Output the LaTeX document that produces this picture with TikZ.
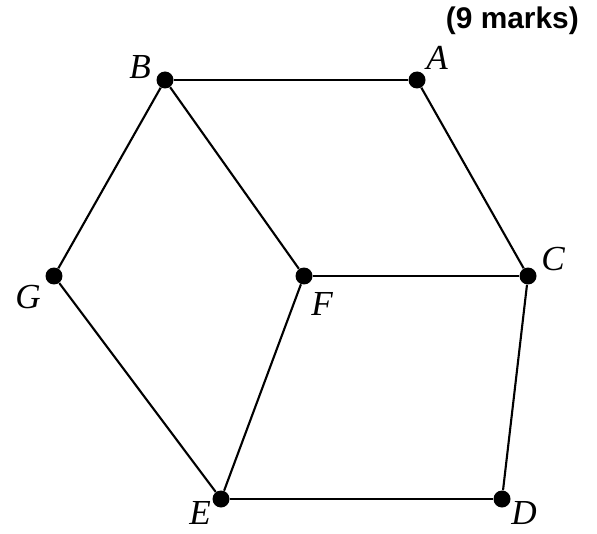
\documentclass[tikz,border=0pt]{standalone}
\usepackage{fontspec}
\setmainfont{Liberation Serif}
\setsansfont{Liberation Sans}
\usepackage{tikz}
\usetikzlibrary{positioning}

\begin{document}
\begin{tikzpicture}[x=0.02cm,y=-0.02cm,
  vtx/.style={circle,fill=black,inner sep=0pt,minimum size=0.34cm},
  lbl/.style={font=\fontsize{20}{24}\selectfont\itshape,inner sep=0pt},
  edge/.style={line width=1.2pt}]
\useasboundingbox (0,0) rectangle (597,533);
\node[font=\fontsize{17}{20}\selectfont\sffamily\bfseries,anchor=east] (marks) at (585,21) {(9 marks)};
% vertices
\node[vtx] (A) at (417,80) {};
\node[vtx] (B) at (165,80) {};
\node[vtx] (C) at (528,276) {};
\node[vtx] (F) at (304,276) {};
\node[vtx] (G) at (54,276) {};
\node[vtx] (E) at (221,499) {};
\node[vtx] (D) at (502,499) {};
% labels
\node[lbl] (lA) at (437,58) {A};
\node[lbl] (lB) at (140,67) {B};
\node[lbl] (lC) at (553,259) {C};
\node[lbl] (lF) at (322,304) {F};
\node[lbl] (lG) at (28,297) {G};
\node[lbl] (lE) at (200,513) {E};
\node[lbl] (lD) at (524,513) {D};
% edges
\draw[edge] (B) -- (A);
\draw[edge] (A) -- (C);
\draw[edge] (B) -- (F);
\draw[edge] (B) -- (G);
\draw[edge] (F) -- (C);
\draw[edge] (C) -- (D);
\draw[edge] (F) -- (E);
\draw[edge] (G) -- (E);
\draw[edge] (E) -- (D);
\end{tikzpicture}
\end{document}
